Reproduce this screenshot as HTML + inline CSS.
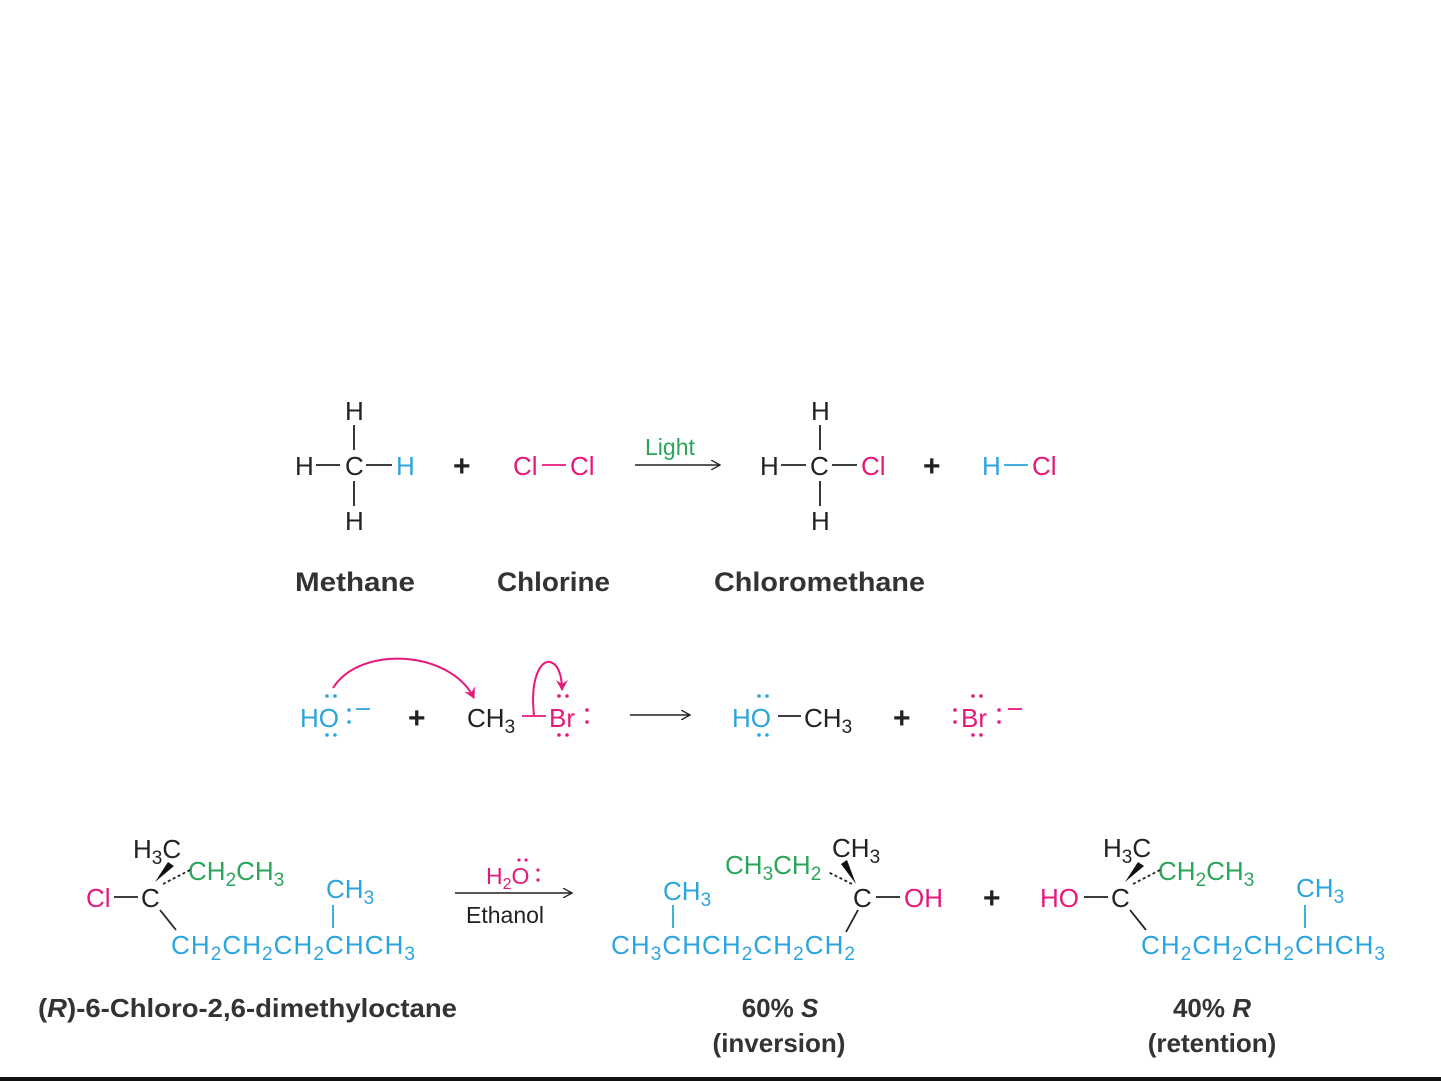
<!DOCTYPE html>
<html><head><meta charset="utf-8"><style>
html,body{margin:0;padding:0;background:#fff;}
svg{display:block;}
text{font-family:"Liberation Sans",sans-serif;}
.f{font-size:26px;}
.p{font-size:30px;font-weight:bold;fill:#222;}
.b{font-size:27px;font-weight:bold;fill:#333;}
.k{fill:#222;}.c{fill:#2aa5de;}.m{fill:#e5197b;}.g{fill:#2aa55a;}
</style></head><body>
<svg width="1441" height="1081" viewBox="0 0 1441 1081" xmlns="http://www.w3.org/2000/svg">
<defs><marker id="ah" markerWidth="10" markerHeight="10" refX="9" refY="5" orient="auto" markerUnits="userSpaceOnUse"><path d="M0,0 L9,5 L0,10" fill="none" stroke="#222" stroke-width="1.3"/></marker>
<marker id="am" markerWidth="12" markerHeight="12" refX="10" refY="6" orient="auto" markerUnits="userSpaceOnUse"><path d="M0,0 L11,6 L0,12 L4,6 Z" fill="#e5197b"/></marker></defs>
<g stroke-width="1.8">
<!-- Row 1 -->
<text class="f k" x="345" y="420">H</text>
<text class="f k" x="295" y="475">H</text>
<line x1="316" y1="465" x2="340" y2="465" stroke="#222"/>
<text class="f k" x="345" y="475">C</text>
<line x1="366" y1="465" x2="392" y2="465" stroke="#222"/>
<text class="f c" x="396" y="475">H</text>
<line x1="354" y1="425" x2="354" y2="450" stroke="#222"/>
<line x1="354" y1="481" x2="354" y2="506" stroke="#222"/>
<text class="f k" x="345" y="530">H</text>
<text class="p" x="453" y="476">+</text>
<text class="f m" x="513" y="475">Cl</text>
<line x1="542" y1="465" x2="566" y2="465" stroke="#e5197b"/>
<text class="f m" x="570" y="475">Cl</text>
<line x1="635" y1="465" x2="720" y2="465" stroke="#222" stroke-width="1.4" marker-end="url(#ah)"/>
<text class="g" x="645" y="455" style="font-size:23px">Light</text>
<text class="f k" x="811" y="420">H</text>
<text class="f k" x="760" y="475">H</text>
<line x1="781" y1="465" x2="806" y2="465" stroke="#222"/>
<text class="f k" x="810" y="475">C</text>
<line x1="832" y1="465" x2="857" y2="465" stroke="#222"/>
<text class="f m" x="861" y="475">Cl</text>
<line x1="820" y1="425" x2="820" y2="450" stroke="#222"/>
<line x1="820" y1="481" x2="820" y2="506" stroke="#222"/>
<text class="f k" x="811" y="530">H</text>
<text class="p" x="923" y="476">+</text>
<text class="f c" x="982" y="475">H</text>
<line x1="1004" y1="465" x2="1028" y2="465" stroke="#2aa5de"/>
<text class="f m" x="1032" y="475">Cl</text>
<text class="b" x="295" y="591" textLength="120" lengthAdjust="spacingAndGlyphs">Methane</text>
<text class="b" x="497" y="591" textLength="113" lengthAdjust="spacingAndGlyphs">Chlorine</text>
<text class="b" x="714" y="591" textLength="211" lengthAdjust="spacingAndGlyphs">Chloromethane</text>
<!-- Row 2 -->
<text class="f c" x="300" y="727">HO</text>
<g fill="#2aa5de"><circle cx="327" cy="696" r="1.8"/><circle cx="335" cy="696" r="1.8"/><circle cx="327" cy="735" r="1.8"/><circle cx="335" cy="735" r="1.8"/><circle cx="349" cy="710" r="1.8"/><circle cx="349" cy="722" r="1.8"/></g>
<line x1="356" y1="709" x2="370" y2="709" stroke="#2aa5de"/>
<text class="p" x="408" y="728">+</text>
<text class="f k" x="467" y="727">CH<tspan font-size="19" dy="6">3</tspan></text>
<line x1="522" y1="716" x2="546" y2="716" stroke="#e5197b"/>
<text class="f m" x="549" y="727">Br</text>
<g fill="#e5197b"><circle cx="559" cy="696" r="1.8"/><circle cx="567" cy="696" r="1.8"/><circle cx="559" cy="735" r="1.8"/><circle cx="567" cy="735" r="1.8"/><circle cx="587" cy="710" r="1.8"/><circle cx="587" cy="722" r="1.8"/></g>
<path d="M333,688 C360,645 450,650 474,698" fill="none" stroke="#e5197b" stroke-width="2" marker-end="url(#am)"/>
<path d="M534,715 C530,680 540,660 550,662 C558,664 562,675 562,690" fill="none" stroke="#e5197b" stroke-width="2" marker-end="url(#am)"/>
<line x1="630" y1="715" x2="690" y2="715" stroke="#222" stroke-width="1.4" marker-end="url(#ah)"/>
<text class="f c" x="732" y="727">HO</text>
<g fill="#2aa5de"><circle cx="759" cy="696" r="1.8"/><circle cx="767" cy="696" r="1.8"/><circle cx="759" cy="735" r="1.8"/><circle cx="767" cy="735" r="1.8"/></g>
<line x1="778" y1="716" x2="801" y2="716" stroke="#222"/>
<text class="f k" x="804" y="727">CH<tspan font-size="19" dy="6">3</tspan></text>
<text class="p" x="893" y="728">+</text>
<g fill="#e5197b"><circle cx="955" cy="710" r="1.8"/><circle cx="955" cy="722" r="1.8"/><circle cx="973" cy="696" r="1.8"/><circle cx="981" cy="696" r="1.8"/><circle cx="973" cy="735" r="1.8"/><circle cx="981" cy="735" r="1.8"/><circle cx="999" cy="710" r="1.8"/><circle cx="999" cy="722" r="1.8"/></g>
<text class="f m" x="961" y="727">Br</text>
<line x1="1008" y1="709" x2="1022" y2="709" stroke="#e5197b"/>
<!-- Row 3 reactant -->
<text class="f k" x="133" y="858">H<tspan font-size="19" dy="6">3</tspan><tspan dy="-6">C</tspan></text>
<text class="f g" x="188" y="880">CH<tspan font-size="19" dy="6">2</tspan><tspan dy="-6">CH</tspan><tspan font-size="19" dy="6">3</tspan></text>
<text class="f c" x="326" y="898">CH<tspan font-size="19" dy="6">3</tspan></text>
<text class="f m" x="86" y="907">Cl</text>
<line x1="114" y1="897" x2="138" y2="897" stroke="#222"/>
<text class="f k" x="141" y="907">C</text>
<polygon points="155,882 168,862 174,866" fill="#111"/>
<line x1="163" y1="884" x2="190" y2="870" stroke="#222" stroke-dasharray="3,2.5"/>
<line x1="160" y1="910" x2="176" y2="930" stroke="#222"/>
<line x1="333" y1="905" x2="333" y2="928" stroke="#2aa5de"/>
<text class="f c" x="171" y="954" textLength="244">CH<tspan font-size="19" dy="6">2</tspan><tspan dy="-6">CH</tspan><tspan font-size="19" dy="6">2</tspan><tspan dy="-6">CH</tspan><tspan font-size="19" dy="6">2</tspan><tspan dy="-6">CHCH</tspan><tspan font-size="19" dy="6">3</tspan></text>
<line x1="455" y1="893" x2="572" y2="893" stroke="#222" stroke-width="1.4" marker-end="url(#ah)"/>
<text class="m" x="486" y="884" style="font-size:23px">H<tspan font-size="16" dy="5">2</tspan><tspan dy="-5">O</tspan></text>
<g fill="#e5197b"><circle cx="519" cy="860" r="1.6"/><circle cx="526" cy="860" r="1.6"/><circle cx="538" cy="870" r="1.6"/><circle cx="538" cy="880" r="1.6"/></g>
<text class="k" x="466" y="923" style="font-size:23px">Ethanol</text>
<!-- product 1 -->
<text class="f g" x="725" y="874">CH<tspan font-size="19" dy="6">3</tspan><tspan dy="-6">CH</tspan><tspan font-size="19" dy="6">2</tspan></text>
<text class="f k" x="832" y="857">CH<tspan font-size="19" dy="6">3</tspan></text>
<text class="f c" x="663" y="900">CH<tspan font-size="19" dy="6">3</tspan></text>
<polygon points="856,884 841,864 847,860" fill="#111"/>
<line x1="852" y1="884" x2="828" y2="872" stroke="#222" stroke-dasharray="3,2.5"/>
<text class="f k" x="853" y="907">C</text>
<line x1="876" y1="897" x2="900" y2="897" stroke="#222"/>
<text class="f m" x="904" y="907">OH</text>
<line x1="673" y1="905" x2="673" y2="928" stroke="#2aa5de"/>
<line x1="858" y1="910" x2="846" y2="932" stroke="#222"/>
<text class="f c" x="611" y="954" textLength="244">CH<tspan font-size="19" dy="6">3</tspan><tspan dy="-6">CHCH</tspan><tspan font-size="19" dy="6">2</tspan><tspan dy="-6">CH</tspan><tspan font-size="19" dy="6">2</tspan><tspan dy="-6">CH</tspan><tspan font-size="19" dy="6">2</tspan></text>
<text class="p" x="983" y="908">+</text>
<!-- product 2 -->
<text class="f k" x="1103" y="857">H<tspan font-size="19" dy="6">3</tspan><tspan dy="-6">C</tspan></text>
<text class="f g" x="1158" y="880">CH<tspan font-size="19" dy="6">2</tspan><tspan dy="-6">CH</tspan><tspan font-size="19" dy="6">3</tspan></text>
<text class="f c" x="1296" y="897">CH<tspan font-size="19" dy="6">3</tspan></text>
<text class="f m" x="1040" y="907">HO</text>
<line x1="1084" y1="897" x2="1108" y2="897" stroke="#222"/>
<text class="f k" x="1111" y="907">C</text>
<polygon points="1125,882 1138,862 1144,866" fill="#111"/>
<line x1="1133" y1="884" x2="1160" y2="870" stroke="#222" stroke-dasharray="3,2.5"/>
<line x1="1130" y1="910" x2="1146" y2="930" stroke="#222"/>
<line x1="1305" y1="905" x2="1305" y2="928" stroke="#2aa5de"/>
<text class="f c" x="1141" y="954" textLength="244">CH<tspan font-size="19" dy="6">2</tspan><tspan dy="-6">CH</tspan><tspan font-size="19" dy="6">2</tspan><tspan dy="-6">CH</tspan><tspan font-size="19" dy="6">2</tspan><tspan dy="-6">CHCH</tspan><tspan font-size="19" dy="6">3</tspan></text>
<!-- labels -->
<text class="b" x="38" y="1017" style="font-size:26px" textLength="419" lengthAdjust="spacingAndGlyphs">(<tspan font-style="italic">R</tspan>)-6-Chloro-2,6-dimethyloctane</text>
<text class="b" x="780" y="1017" text-anchor="middle" style="font-size:26px">60% <tspan font-style="italic">S</tspan></text>
<text class="b" x="779" y="1052" text-anchor="middle" style="font-size:26px">(inversion)</text>
<text class="b" x="1212" y="1017" text-anchor="middle" style="font-size:26px">40% <tspan font-style="italic">R</tspan></text>
<text class="b" x="1212" y="1052" text-anchor="middle" style="font-size:26px">(retention)</text>
<rect x="0" y="1077" width="1441" height="4" fill="#111" stroke="none"/>
</g>
</svg>
</body></html>
